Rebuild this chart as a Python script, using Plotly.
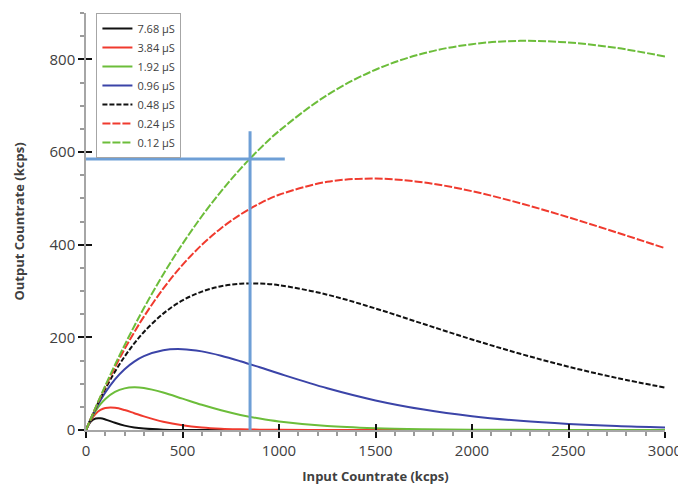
import plotly.graph_objects as go

# Input countrate (kcps) sample positions
x_in = [0, 25, 50, 75, 100, 150, 200, 250, 300, 400, 500, 600, 700, 800, 900,
        1000, 1250, 1500, 1750, 2000, 2250, 2500, 2750, 3000]

# Output countrate (kcps), one list per dead time
out_768 = [0, 18.3, 24.7, 25.1, 22.7, 15.5, 9.5, 5.4, 3.0, 0.8, 0.2, 0.1, 0, 0, 0,
           0, 0, 0, 0, 0, 0, 0, 0, 0]
out_384 = [0, 21.3, 35.0, 43.2, 47.3, 47.8, 43.1, 36.3, 29.4, 17.8, 10.2, 5.5, 2.9, 1.6, 0.8,
           0.4, 0.1, 0, 0, 0, 0, 0, 0, 0]
out_192 = [0, 22.6, 40.9, 55.6, 67.0, 82.3, 89.9, 92.0, 90.4, 80.8, 67.7, 54.4, 42.6, 32.6, 24.6,
           18.3, 8.4, 3.7, 1.6, 0.7, 0.3, 0.1, 0.05, 0.02]
out_096 = [0, 23.7, 45.0, 64.0, 81.0, 109.4, 131.3, 147.7, 159.5, 172.3, 174.5, 169.7, 160.4, 148.5, 135.3,
           121.8, 90.0, 63.8, 44.0, 29.7, 19.7, 13.0, 8.4, 5.4]
out_048 = [0, 24.3, 47.2, 68.7, 89.0, 126.0, 158.5, 186.9, 211.6, 251.2, 279.6, 298.6, 310.2, 315.6, 316.1,
           312.6, 292.1, 262.2, 228.7, 195.4, 164.5, 136.6, 112.3, 91.6]
out_024 = [0, 24.6, 48.3, 71.3, 93.4, 135.5, 174.6, 211.0, 244.8, 305.0, 356.3, 399.5, 435.5, 465.0, 488.9,
           507.6, 535.6, 542.6, 534.3, 515.4, 489.4, 459.0, 426.3, 392.4]
out_012 = [0, 24.7, 48.9, 72.6, 95.7, 140.5, 183.2, 224.1, 263.1, 335.7, 401.7, 461.3, 515.1, 563.5, 606.8,
           645.3, 723.0, 777.6, 813.1, 832.8, 839.9, 836.3, 824.5, 806.1]

labels = ["7.68 µS", "3.84 µS", "1.92 µS", "0.96 µS", "0.48 µS", "0.24 µS", "0.12 µS"]
series = [out_768, out_384, out_192, out_096, out_048, out_024, out_012]
colors = ["#111111", "#f03a2e", "#6cbd3a", "#3b44a8", "#111111", "#f03a2e", "#6cbd3a"]
dashes = ["solid", "solid", "solid", "solid", "5px,2px", "8px,2px", "8px,2px"]

# Operating-point marker lines
marker_x = 850
marker_y = 585
hline_x = [0, 1030]
vline_y = [0, 645]

fig = go.Figure()
for lab, ys, c, d in zip(labels, series, colors, dashes):
    fig.add_trace(go.Scatter(x=x_in, y=ys, mode="lines", name=lab,
                             line=dict(color=c, width=2, dash=d, shape="spline", smoothing=1.0)))

fig.add_trace(go.Scatter(x=hline_x, y=[marker_y, marker_y], mode="lines", showlegend=False,
                         line=dict(color="#6e9fd6", width=3), hoverinfo="skip"))
fig.add_trace(go.Scatter(x=[marker_x, marker_x], y=vline_y, mode="lines", showlegend=False,
                         line=dict(color="#6e9fd6", width=3), hoverinfo="skip"))

font_family = "Open Sans"
axis_common = dict(showgrid=False, zeroline=False, showline=True, linecolor="#a6a6a6", linewidth=1.5,
                   ticks="outside", ticklen=6, tickwidth=2, tickcolor="#111111",
                   ticklabeloverflow="allow", automargin=False,
                   tickfont=dict(size=15, color="#404040", family=font_family))

fig.update_layout(
    width=678, height=485,
    margin=dict(l=86, r=13, t=13, b=55),
    plot_bgcolor="white", paper_bgcolor="white",
    font=dict(family=font_family),
    xaxis=dict(range=[0, 3000], dtick=500, tick0=0,
               minor=dict(ticks="outside", ticklen=4, tickcolor="#9a9a9a", dtick=100),
               title=dict(text="<b>Input Countrate (kcps)</b>", font=dict(size=13, color="#404040"),
                          standoff=20),
               **axis_common),
    yaxis=dict(range=[0, 900], dtick=200, tick0=0,
               minor=dict(ticks="outside", ticklen=4, tickcolor="#9a9a9a", dtick=50),
               title=dict(text="<b>Output Countrate (kcps)</b>", font=dict(size=13, color="#404040"),
                          standoff=22),
               **axis_common),
    xaxis2=dict(overlaying="x", matches="x", range=[0, 3000], dtick=500, tick0=0, anchor="y",
                showgrid=False, zeroline=False, showline=False, showticklabels=False,
                ticks="inside", ticklen=6, tickwidth=2, tickcolor="#111111", automargin=False),
    yaxis2=dict(overlaying="y", matches="y", range=[0, 900], dtick=200, tick0=0, anchor="x",
                showgrid=False, zeroline=False, showline=False, showticklabels=False,
                ticks="inside", ticklen=6, tickwidth=2, tickcolor="#111111", automargin=False),
    legend=dict(x=0.018, y=1.0, xanchor="left", yanchor="top",
                bordercolor="#a6a6a6", borderwidth=1, bgcolor="white",
                font=dict(size=11, color="#404040", family=font_family),
                itemwidth=30, tracegroupgap=0),
    showlegend=True,
)

# invisible trace to make sure overlay axes render
fig.add_trace(go.Scatter(x=[0], y=[0], xaxis="x2", yaxis="y2", mode="markers",
                         marker=dict(opacity=0), showlegend=False, hoverinfo="skip"))

fig.write_html("out.html")
